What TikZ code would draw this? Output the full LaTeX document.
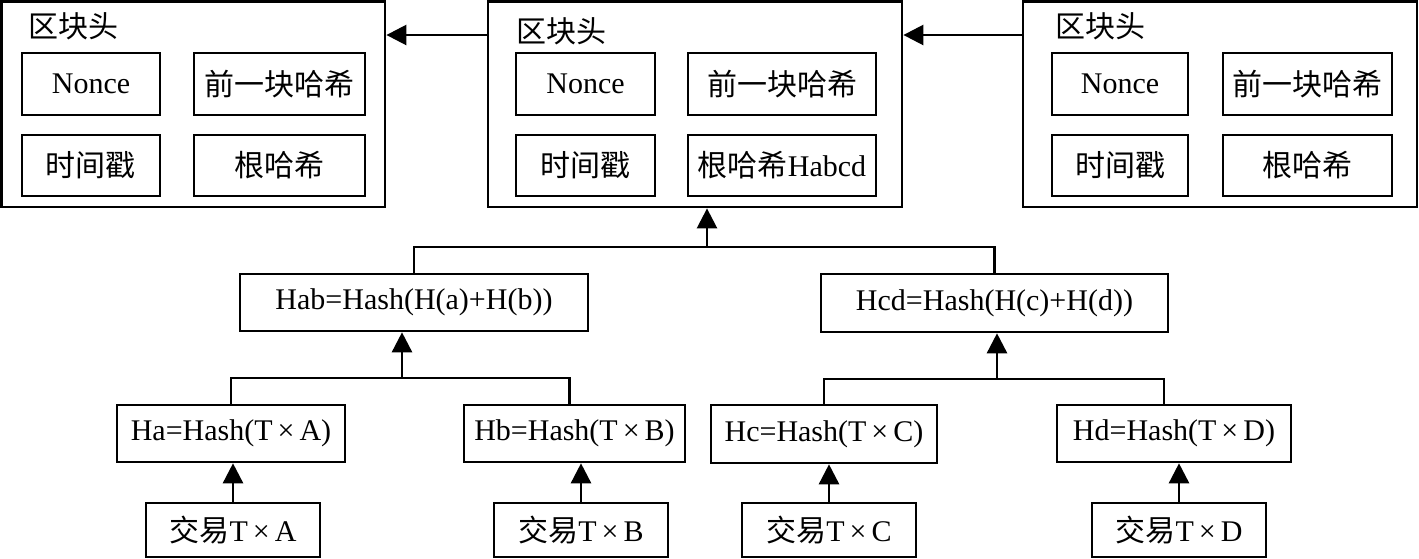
\documentclass[tikz,border=0pt]{standalone}
\usepackage{fontspec}
\setmainfont{Liberation Serif}
\newfontfamily\cjk{Noto Sans CJK SC}
\usetikzlibrary{arrows.meta}
\tikzset{
  x=0.5pt, y=-0.5pt,
  box/.style={draw, line width=1.3pt, inner sep=0pt, font=\fontsize{15pt}{18pt}\selectfont},
  outer/.style={draw, line width=1.4pt, inner sep=0pt},
  lbl/.style={inner sep=0pt, anchor=west, font=\fontsize{15pt}{18pt}\selectfont\cjk},
  conn/.style={line width=1.3pt},
  arr/.style={line width=1.3pt, -{Triangle[length=10pt,width=10pt]}}
}
\newcommand\mybox[6]{%
  \node[box, minimum width={(#4-#2)*0.5pt}, minimum height={(#5-#3)*0.5pt}]
    (#1) at ({(#2+#4)/2},{(#3+#5)/2}) {#6};}
\newcommand\myouter[5]{%
  \node[outer, minimum width={(#4-#2)*0.5pt}, minimum height={(#5-#3)*0.5pt}]
    (#1) at ({(#2+#4)/2},{(#3+#5)/2}) {};}
\begin{document}
\begin{tikzpicture}
\useasboundingbox (0,0) rectangle (1419,558);
% block headers
\myouter{b1}{1.5}{1.5}{385}{207}
\myouter{b2}{488}{1.5}{902}{207}
\myouter{b3}{1023}{1.5}{1417}{207}
\node[lbl] (l1) at (28,26) {区块头};
\node[lbl] (l2) at (516,31) {区块头};
\node[lbl] (l3) at (1055,26) {区块头};
% block 1
\mybox{n1}{22}{53}{160}{115}{Nonce}
\mybox{p1}{194}{53}{365}{115}{\cjk 前一块哈希}
\mybox{t1}{22}{135}{160}{196}{\cjk 时间戳}
\mybox{r1}{194}{135}{365}{196}{\cjk 根哈希}
% block 2
\mybox{n2}{516}{53}{655}{115}{Nonce}
\mybox{p2}{688}{53}{876}{115}{\cjk 前一块哈希}
\mybox{t2}{516}{135}{655}{196}{\cjk 时间戳}
\mybox{r2}{688}{135}{876}{196}{{\cjk 根哈希}Habcd}
% block 3
\mybox{n3}{1052}{53}{1188}{115}{Nonce}
\mybox{p3}{1223}{53}{1392}{115}{\cjk 前一块哈希}
\mybox{t3}{1052}{135}{1188}{196}{\cjk 时间戳}
\mybox{r3}{1223}{135}{1392}{196}{\cjk 根哈希}
% chain arrows
\coordinate (a1) at (0,35);
\draw[arr] (b2.west |- a1) -- (b1.east |- a1);
\draw[arr] (b3.west |- a1) -- (b2.east |- a1);
% merkle tree
\mybox{hab}{240}{274}{588}{331}{Hab=Hash(H(a)+H(b))}
\mybox{hcd}{821}{274}{1168}{332}{Hcd=Hash(H(c)+H(d))}
\mybox{ha}{117}{405}{345}{462}{Ha=Hash(T\,×\,A)}
\mybox{hb}{464}{405}{685}{462}{Hb=Hash(T\,×\,B)}
\mybox{hc}{711}{405}{937}{463}{Hc=Hash(T\,×\,C)}
\mybox{hd}{1057}{405}{1291}{462}{Hd=Hash(T\,×\,D)}
\mybox{ta}{146}{503}{320}{557}{{\cjk 交易}T\,×\,A}
\mybox{tb}{494}{503}{668}{557}{{\cjk 交易}T\,×\,B}
\mybox{tc}{742}{503}{916}{557}{{\cjk 交易}T\,×\,C}
\mybox{td}{1092}{503}{1266}{557}{{\cjk 交易}T\,×\,D}
% root level
\coordinate (j0) at (707,247);
\draw[conn] (hab.north) -- (hab.north |- j0) -- (hcd.north |- j0) -- (hcd.north);
\draw[arr] (j0) -- (j0 |- b2.south);
% left subtree
\coordinate (j1) at (402,378);
\draw[conn] (ha.north) -- (ha.north |- j1) -- ([xshift=-2.5pt]hb.north |- j1) -- ([xshift=-2.5pt]hb.north);
\draw[arr] (j1) -- (j1 |- hab.south);
% right subtree
\coordinate (j2) at (997,379);
\draw[conn] (hc.north) -- (hc.north |- j2) -- ([xshift=-5pt]hd.north |- j2) -- ([xshift=-5pt]hd.north);
\draw[arr] (j2) -- (j2 |- hcd.south);
% leaves
\draw[arr] (ta.north) -- (ta.north |- ha.south);
\draw[arr] (tb.north) -- (tb.north |- hb.south);
\draw[arr] (tc.north) -- (tc.north |- hc.south);
\draw[arr] (td.north) -- (td.north |- hd.south);
\end{tikzpicture}
\end{document}
